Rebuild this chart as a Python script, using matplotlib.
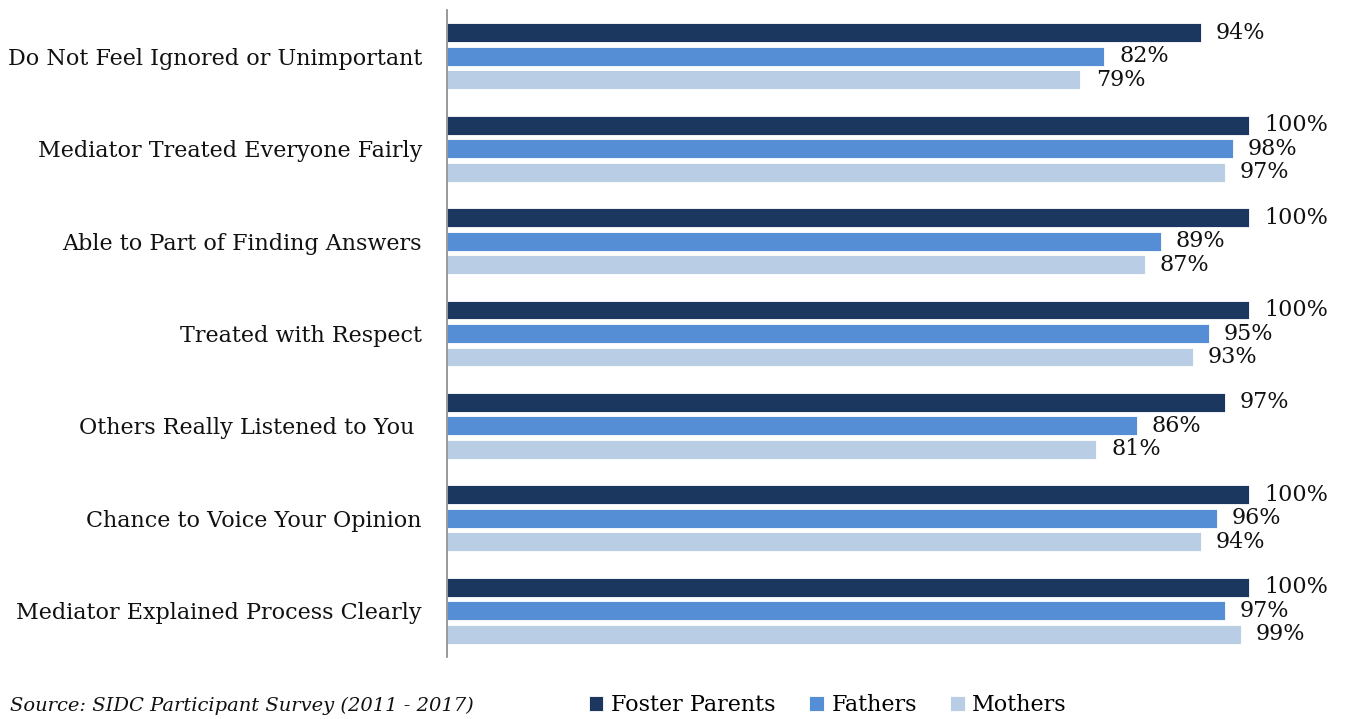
import matplotlib
matplotlib.use("Agg")
import matplotlib.pyplot as plt
import numpy as np

categories = [
    "Do Not Feel Ignored or Unimportant",
    "Mediator Treated Everyone Fairly",
    "Able to Part of Finding Answers",
    "Treated with Respect",
    "Others Really Listened to You ",
    "Chance to Voice Your Opinion",
    "Mediator Explained Process Clearly",
]
series_names = ["Foster Parents", "Fathers", "Mothers"]
foster = [94, 100, 100, 100, 97, 100, 100]
fathers = [82, 98, 89, 95, 86, 96, 97]
mothers = [79, 97, 87, 93, 81, 94, 99]
colors = ["#1b3760", "#558ed5", "#b9cde5"]

FONT = "DejaVu Serif"
plt.rcParams["font.family"] = FONT

fig = plt.figure(figsize=(13.45, 7.19), dpi=100)
ax = fig.add_axes([447 / 1345, 1 - 657 / 719, 898 / 1345, 647 / 719])

y = np.arange(len(categories))
h = 0.205
step = 0.254
for k, (vals, name, c) in enumerate(zip([foster, fathers, mothers], series_names, colors)):
    pos = y + (k - 1) * step
    ax.barh(pos, vals, height=h, color=c, edgecolor="white", linewidth=0.6, label=name)
    for p, v in zip(pos, vals):
        ax.annotate(f"{v}%", (v, p), xytext=(11, 0), textcoords="offset points",
                    va="center", ha="left", fontsize=16, color="#111111")

ax.set_xlim(0, 112)
ax.set_ylim(len(categories) - 0.5, -0.5)
ax.set_yticks(y)
ax.set_yticklabels(categories, fontsize=16, color="#111111")
ax.tick_params(axis="y", length=0, pad=18)
ax.set_xticks([])
for s in ["top", "right", "bottom"]:
    ax.spines[s].set_visible(False)
ax.spines["left"].set_color("#888888")
ax.spines["left"].set_linewidth(1.2)

leg = fig.legend(loc="center", bbox_to_anchor=(828 / 1345, 1 - 705 / 719), ncol=3,
                 frameon=False, fontsize=16, handlelength=0.65, handleheight=0.65,
                 handletextpad=0.35, columnspacing=1.5)

fig.text(10 / 1345, 4 / 719, "Source: SIDC Participant Survey (2011 - 2017)",
         ha="left", va="bottom", fontsize=14, style="italic", color="#111111")

fig.savefig("out.png", dpi=100)
